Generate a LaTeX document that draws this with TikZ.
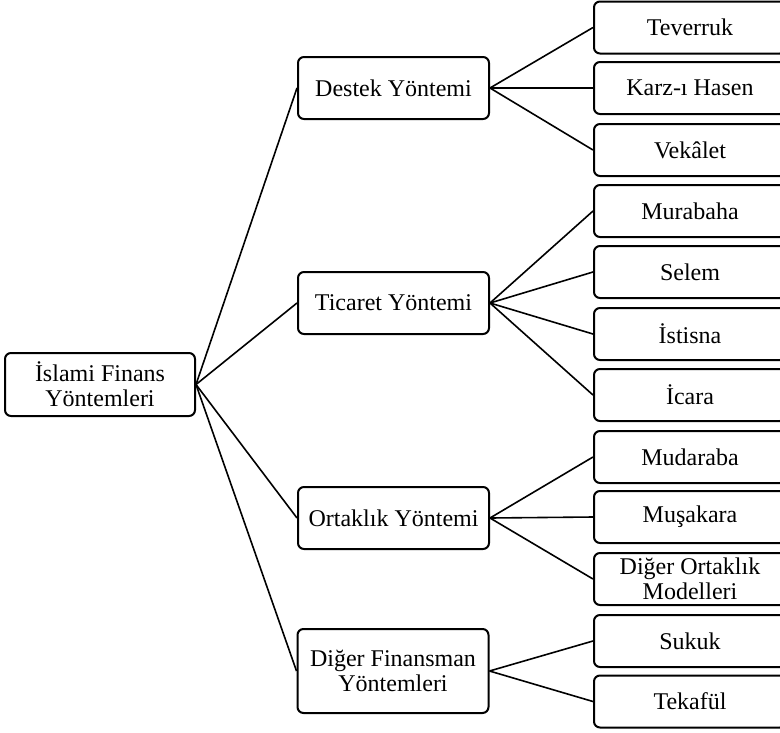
\documentclass[tikz,border=0pt]{standalone}
\usepackage{fontspec}
\setmainfont{Liberation Serif}
\begin{document}
\begin{tikzpicture}[x=1pt,y=-1pt,
  box/.style={draw=black, line width=2pt, rounded corners=6pt, align=center,
    inner sep=0pt, font=\fontsize{24}{25}\selectfont},
  midbox/.style={box, minimum width=191pt, minimum height=62pt},
  leafbox/.style={box, minimum width=192pt, minimum height=52pt},
  link/.style={line width=1.6pt}]
\clip (0,0) rectangle (780,732);
\fill[white] (0,0) rectangle (780,732);
\node[box, minimum width=190pt, minimum height=63pt] (root) at (100,384.5) {İslami Finans\\Yöntemleri};
\node[midbox] (m1) at (393.5,88) {Destek Yöntemi};
\node[midbox] (m2) at (393.5,303) {Ticaret Yöntemi};
\node[midbox] (m3) at (393.5,518) {Ortaklık Yöntemi};
\node[midbox, minimum height=84pt] (m4) at (393,671) {Diğer Finansman\\Yöntemleri};
\node[leafbox] (l1) at (690,27.5) {Teverruk};
\node[leafbox] (l2) at (690,88) {Karz-ı Hasen};
\node[leafbox] (l3) at (690,150) {Vekâlet};
\node[leafbox] (l4) at (690,211) {Murabaha};
\node[leafbox] (l5) at (690,272) {Selem};
\node[leafbox] (l6) at (690,334) {İstisna};
\node[leafbox] (l7) at (690,395) {İcara};
\node[leafbox] (l8) at (690,457) {Mudaraba};
\node[leafbox] (l9) at (690,517) {Muşakara};
\node[leafbox] (l10) at (690,579) {Diğer Ortaklık\\Modelleri};
\node[leafbox] (l11) at (690,641) {Sukuk};
\node[leafbox] (l12) at (690,701.5) {Tekafül};
\foreach \m in {m1,m2,m3,m4} \draw[link] (root.east) -- (\m.west);
\foreach \l in {l1,l2,l3} \draw[link] (m1.east) -- (\l.west);
\foreach \l in {l4,l5,l6,l7} \draw[link] (m2.east) -- (\l.west);
\foreach \l in {l8,l9,l10} \draw[link] (m3.east) -- (\l.west);
\foreach \l in {l11,l12} \draw[link] (m4.east) -- (\l.west);
\end{tikzpicture}
\end{document}
